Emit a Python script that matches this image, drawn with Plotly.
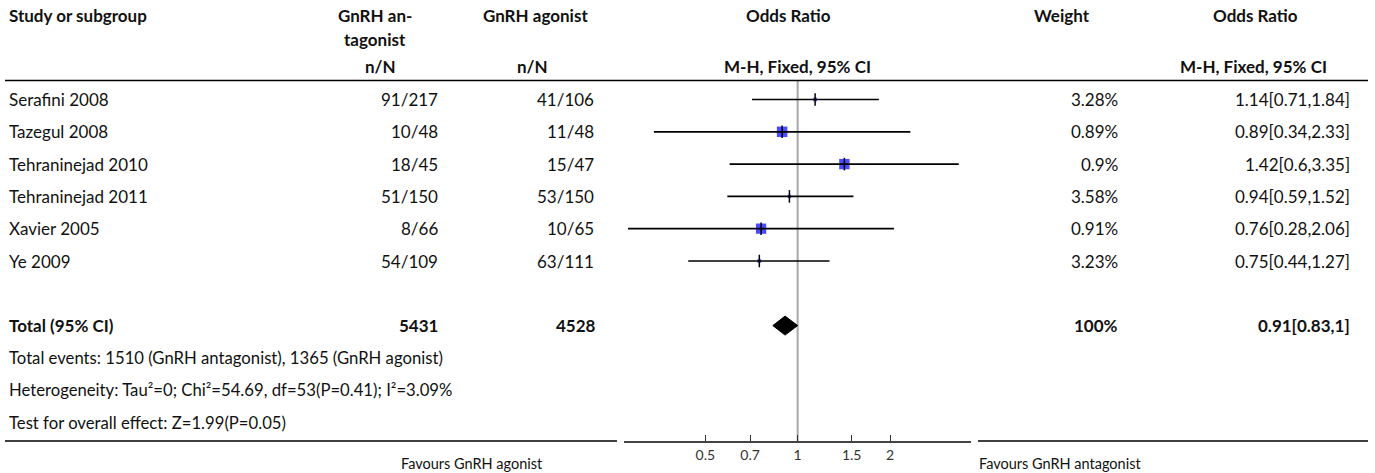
import plotly.graph_objects as go

W, H = 1375, 473
FONT = "Lato"

# ---------------- data ----------------
studies = ["Serafini 2008", "Tazegul 2008", "Tehraninejad 2010",
           "Tehraninejad 2011", "Xavier 2005", "Ye 2009"]
antag_events = [91, 10, 18, 51, 8, 54]
antag_total = [217, 48, 45, 150, 66, 109]
agon_events = [41, 11, 15, 53, 10, 63]
agon_total = [106, 48, 47, 150, 65, 111]
weights = [3.28, 0.89, 0.9, 3.58, 0.91, 3.23]
or_est = [1.14, 0.89, 1.42, 0.94, 0.76, 0.75]
ci_low = [0.71, 0.34, 0.6, 0.59, 0.28, 0.44]
ci_high = [1.84, 2.33, 3.35, 1.52, 2.06, 1.27]

total_label = "Total (95% CI)"
total_antag = 5431
total_agon = 4528
total_weight = "100%"
total_or = 0.91
total_low = 0.83
total_high = 1
footer_texts = [
    "Total events: 1510 (GnRH antagonist), 1365 (GnRH agonist)",
    "Heterogeneity: Tau²=0; Chi²=54.69, df=53(P=0.41); I²=3.09%",
    "Test for overall effect: Z=1.99(P=0.05)",
]
tick_vals = [0.5, 0.7, 1, 1.5, 2]
tick_text = ["0.5", "0.7", "1", "1.5", "2"]
left_favours = "Favours GnRH agonist"
right_favours = "Favours GnRH antagonist"

# ---------------- geometry ----------------
ROW0_PX, ROW_PX = 99.5, 32.3
AXIS_PX, TOP_PX = 441.0, 80.5
AX_L, AX_R = 624.3, 971.0


def row_of(px):
    return (px - ROW0_PX) / ROW_PX


def fmt(v):
    return ("%g" % v)


n = len(studies)
rows = list(range(n))
total_row = n + 1
footer_rows = [n + 2 + i for i in range(len(footer_texts))]
y_bottom, y_top = row_of(AXIS_PX), row_of(0)

fig = go.Figure()

# reference line at OR = 1
fig.add_trace(go.Scatter(x=[1, 1], y=[row_of(TOP_PX), y_bottom], mode="lines",
                         line=dict(color="#a8a8a8", width=2), hoverinfo="skip"))

# study squares (size from weights)
sizes = [10.5 * (min(weights) / w) ** 0.8 for w in weights]
fig.add_trace(go.Scatter(x=or_est, y=rows, mode="markers",
                         marker=dict(symbol="square", size=sizes, color="#0000ff",
                                     line=dict(width=0))))
# confidence intervals
xs, ys = [], []
for lo, hi, r in zip(ci_low, ci_high, rows):
    xs += [lo, hi, None]
    ys += [r, r, None]
fig.add_trace(go.Scatter(x=xs, y=ys, mode="lines", line=dict(color="black", width=1.7)))
# vertical tick at point estimate
fig.add_trace(go.Scatter(x=or_est, y=rows, mode="markers",
                         marker=dict(symbol="line-ns", size=9,
                                     line=dict(color="black", width=1.5))))
# pooled diamond
dh = 9.5 / ROW_PX
fig.add_trace(go.Scatter(x=[total_low, total_or, total_high, total_or, total_low],
                         y=[total_row, total_row - dh, total_row, total_row + dh, total_row],
                         mode="lines", fill="toself", fillcolor="black",
                         line=dict(color="black", width=1)))

# ---------------- text table ----------------
ann = []


def txt(text, xpx, y, anchor="left", bold=False, size=17, yref="y", color="#111"):
    ann.append(dict(text=("<b>%s</b>" % text) if bold else text, x=xpx / W, xref="paper",
                    y=y, yref=yref, xanchor=anchor, yanchor="middle", showarrow=False,
                    font=dict(family=FONT, size=size, color=color)))


LEFT_X = 7
HB = 17
# headers
txt("Study or subgroup", LEFT_X, row_of(15), bold=True, size=HB)
txt("GnRH an-", 375, row_of(15), "center", True, HB)
txt("tagonist", 375, row_of(39), "center", True, HB)
txt("n/N", 380, row_of(66), "center", True, HB)
txt("GnRH agonist", 535, row_of(15), "center", True, HB)
txt("n/N", 532, row_of(66), "center", True, HB)
txt("Odds Ratio", 788, row_of(15), "center", True, HB)
txt("M-H, Fixed, 95% CI", 797, row_of(66), "center", True, HB)
txt("Weight", 1062, row_of(15), "center", True, HB)
txt("Odds Ratio", 1255, row_of(15), "center", True, HB)
txt("M-H, Fixed, 95% CI", 1253, row_of(66), "center", True, HB)

# study rows
for i in range(n):
    txt(studies[i], LEFT_X, rows[i])
    txt("%d/%d" % (antag_events[i], antag_total[i]), 440, rows[i], "right")
    txt("%d/%d" % (agon_events[i], agon_total[i]), 596, rows[i], "right")
    txt(fmt(weights[i]) + "%", 1120, rows[i], "right")
    txt("%s[%s,%s]" % (fmt(or_est[i]), fmt(ci_low[i]), fmt(ci_high[i])), 1352, rows[i], "right")

# total row
txt(total_label, LEFT_X, total_row, bold=True, size=HB)
txt(str(total_antag), 440, total_row, "right", True, HB)
txt(str(total_agon), 598, total_row, "right", True, HB)
txt(total_weight, 1120, total_row, "right", True, HB)
txt("%s[%s,%s]" % (fmt(total_or), fmt(total_low), fmt(total_high)), 1352, total_row, "right", True, HB)

for t, r in zip(footer_texts, footer_rows):
    txt(t, LEFT_X, r, size=16.7)

txt(left_favours, 472, 1 - 463 / H, "center", yref="paper", size=14.5)
txt(right_favours, 1060, 1 - 463 / H, "center", yref="paper", size=14.5)

# ---------------- lines ----------------
shapes = [
    dict(type="line", xref="paper", yref="paper", x0=5 / W, x1=1368 / W,
         y0=1 - TOP_PX / H, y1=1 - TOP_PX / H, line=dict(color="black", width=1.5)),
    dict(type="line", xref="paper", yref="paper", x0=5 / W, x1=617 / W,
         y0=1 - AXIS_PX / H, y1=1 - AXIS_PX / H, line=dict(color="black", width=1.5)),
    dict(type="line", xref="paper", yref="paper", x0=978 / W, x1=1368 / W,
         y0=1 - AXIS_PX / H, y1=1 - AXIS_PX / H, line=dict(color="black", width=1.5)),
]

fig.update_layout(
    width=W, height=H, margin=dict(l=0, r=0, t=0, b=0),
    paper_bgcolor="white", plot_bgcolor="white", showlegend=False,
    annotations=ann, shapes=shapes,
    xaxis=dict(type="log", range=[-0.565, 0.565], domain=[AX_L / W, AX_R / W],
               tickvals=tick_vals, ticktext=tick_text, ticks="inside", ticklen=6,
               tickcolor="#333", tickwidth=1, showline=True, linecolor="#444", linewidth=1.5,
               showgrid=False, zeroline=False, fixedrange=True,
               tickfont=dict(family=FONT, size=14, color="#333")),
    yaxis=dict(range=[y_bottom, y_top], domain=[1 - AXIS_PX / H, 1], visible=False,
               showgrid=False, zeroline=False, fixedrange=True),
)

fig.write_html("out.html", config={"displayModeBar": False},
               post_script="document.body.style.margin='0';document.body.style.overflow='hidden';")
